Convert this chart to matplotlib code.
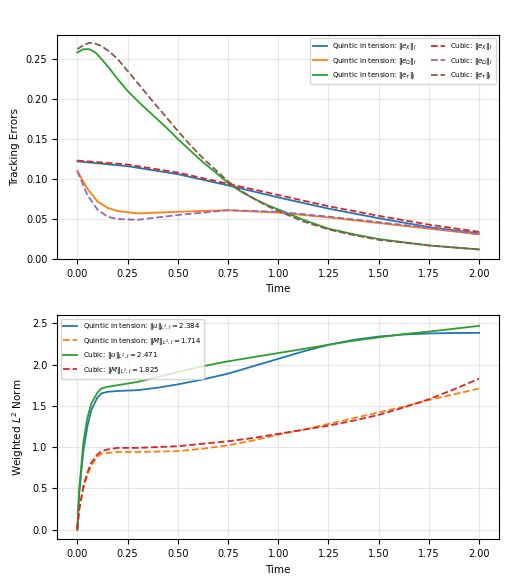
import matplotlib.pyplot as plt

# ---- top panel data ----
t_ex = [0, 0.25, 0.5, 0.75, 1.0, 1.25, 1.5, 1.75, 2.0]
q_ex = [0.122, 0.116, 0.106, 0.092, 0.077, 0.063, 0.051, 0.040, 0.032]
c_ex = [0.123, 0.118, 0.108, 0.094, 0.080, 0.066, 0.054, 0.043, 0.034]

t_eo = [0, 0.05, 0.1, 0.15, 0.2, 0.3, 0.4, 0.5, 0.75, 1.0, 1.25, 1.5, 1.75, 2.0]
q_eo = [0.110, 0.088, 0.072, 0.064, 0.060, 0.057, 0.058, 0.059, 0.061, 0.058, 0.052, 0.045, 0.038, 0.031]
c_eo = [0.110, 0.080, 0.062, 0.053, 0.050, 0.049, 0.052, 0.055, 0.061, 0.059, 0.053, 0.046, 0.039, 0.031]

t_et = [0, 0.03, 0.06, 0.09, 0.12, 0.16, 0.2, 0.25, 0.31, 0.375, 0.44, 0.5, 0.56, 0.625, 0.69, 0.75,
        0.81, 0.875, 0.94, 1.0, 1.125, 1.25, 1.375, 1.5, 1.75, 2.0]
q_et = [0.258, 0.262, 0.262, 0.258, 0.250, 0.238, 0.225, 0.210, 0.195, 0.180, 0.165, 0.150, 0.136, 0.121,
        0.108, 0.095, 0.085, 0.076, 0.068, 0.062, 0.049, 0.038, 0.031, 0.025, 0.017, 0.012]
c_et = [0.262, 0.267, 0.270, 0.269, 0.266, 0.259, 0.250, 0.235, 0.217, 0.197, 0.178, 0.160, 0.143, 0.126,
        0.111, 0.097, 0.086, 0.076, 0.067, 0.060, 0.047, 0.037, 0.030, 0.024, 0.017, 0.012]

# ---- bottom panel data ----
t_n = [0, 0.01, 0.03, 0.05, 0.07, 0.1, 0.12, 0.15, 0.2, 0.3, 0.4, 0.5, 0.625, 0.75, 0.875,
       1.0, 1.125, 1.25, 1.375, 1.5, 1.625, 1.75, 1.875, 2.0]
q_u = [0, 0.45, 0.95, 1.25, 1.45, 1.60, 1.65, 1.67, 1.68, 1.69, 1.72, 1.76, 1.82, 1.89, 1.98,
       2.07, 2.16, 2.24, 2.30, 2.34, 2.365, 2.378, 2.383, 2.385]
c_u = [0, 0.50, 1.05, 1.35, 1.53, 1.66, 1.71, 1.73, 1.75, 1.79, 1.85, 1.91, 1.98, 2.04, 2.09,
       2.14, 2.19, 2.24, 2.29, 2.33, 2.37, 2.40, 2.435, 2.47]
q_M = [0, 0.25, 0.50, 0.66, 0.78, 0.88, 0.92, 0.93, 0.94, 0.94, 0.945, 0.95, 0.98, 1.02, 1.08,
       1.15, 1.21, 1.28, 1.35, 1.42, 1.49, 1.57, 1.64, 1.71]
c_M = [0, 0.25, 0.52, 0.69, 0.81, 0.91, 0.95, 0.97, 0.99, 0.99, 1.00, 1.01, 1.04, 1.07, 1.11,
       1.16, 1.21, 1.26, 1.32, 1.39, 1.48, 1.58, 1.70, 1.83]

fig, (ax1, ax2) = plt.subplots(2, 1, figsize=(5.2, 5.8), dpi=100)

ax1.plot(t_ex, q_ex, color='#1f77b4', lw=1.3, label=r'Quintic in tension: $\|e_X\|_I$')
ax1.plot(t_eo, q_eo, color='#ff7f0e', lw=1.3, label=r'Quintic in tension: $\|e_\Omega\|_I$')
ax1.plot(t_et, q_et, color='#2ca02c', lw=1.3, label=r'Quintic in tension: $\|e_\tau\|_I$')
ax1.plot(t_ex, c_ex, '--', color='#d62728', lw=1.3, label=r'Cubic: $\|e_X\|_I$')
ax1.plot(t_eo, c_eo, '--', color='#9467bd', lw=1.3, label=r'Cubic: $\|e_\Omega\|_I$')
ax1.plot(t_et, c_et, '--', color='#8c564b', lw=1.3, label=r'Cubic: $\|e_\tau\|_I$')
ax1.set_xlabel('Time', fontsize=7.5)
ax1.set_ylabel('Tracking Errors', fontsize=7.5)
ax1.set_ylim(0, 0.28)
ax1.set_xticks([0, 0.25, 0.5, 0.75, 1.0, 1.25, 1.5, 1.75, 2.0])
ax1.legend(ncol=2, fontsize=5, loc='upper right')

ax2.plot(t_n, q_u, color='#1f77b4', lw=1.3, label=r'Quintic in tension: $\|u\|_{L^2,I} = 2.384$')
ax2.plot(t_n, q_M, '--', color='#ff7f0e', lw=1.3, label=r'Quintic in tension: $\|M\|_{L^2,I} = 1.714$')
ax2.plot(t_n, c_u, color='#2ca02c', lw=1.3, label=r'Cubic: $\|u\|_{L^2,I} = 2.471$')
ax2.plot(t_n, c_M, '--', color='#d62728', lw=1.3, label=r'Cubic: $\|M\|_{L^2,I} = 1.825$')
ax2.set_xlabel('Time', fontsize=7.5)
ax2.set_ylabel(r'Weighted $L^2$ Norm', fontsize=7.5)
ax2.set_ylim(-0.12, 2.6)
ax2.set_xticks([0, 0.25, 0.5, 0.75, 1.0, 1.25, 1.5, 1.75, 2.0])
ax2.legend(fontsize=5, loc='upper left')

for ax in (ax1, ax2):
    ax.grid(True, alpha=0.3)
    ax.tick_params(labelsize=7)

fig.subplots_adjust(left=0.11, right=0.96, top=0.94, bottom=0.07, hspace=0.25)
fig.savefig('out.png', dpi=100)
